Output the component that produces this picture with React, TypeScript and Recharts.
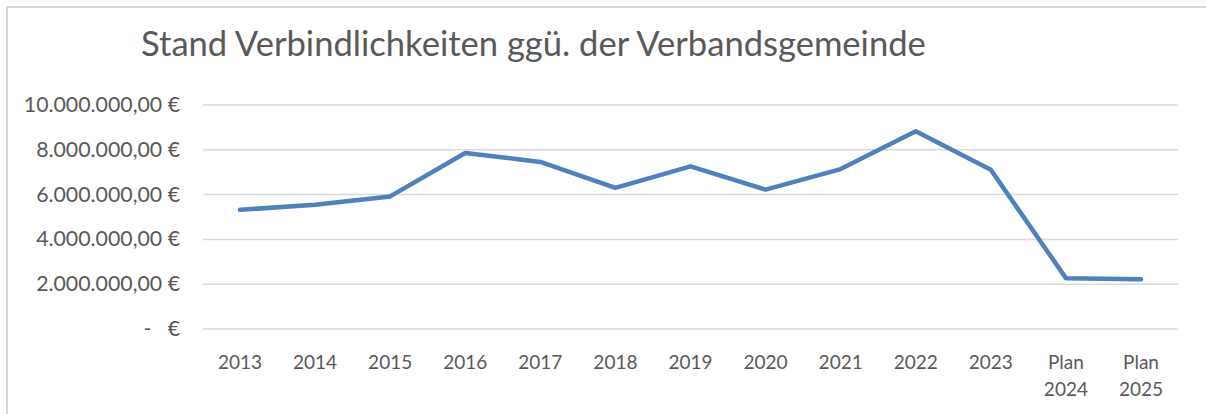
import { LineChart, Line, XAxis, YAxis, CartesianGrid } from 'recharts';

const years = ['2013', '2014', '2015', '2016', '2017', '2018', '2019', '2020', '2021', '2022', '2023', 'Plan 2024', 'Plan 2025'];
const debts = [5320000, 5550000, 5920000, 7860000, 7460000, 6300000, 7260000, 6220000, 7140000, 8830000, 7110000, 2270000, 2220000];
const yTicks = [0, 2000000, 4000000, 6000000, 8000000, 10000000];

const data = years.map((year, i) => ({ year, value: debts[i] }));

const TEXT = '#595959';
const FONT = 'Lato, "Open Sans", sans-serif';

function euro(v: number) {
  if (v === 0) return '-   €';
  const whole = Math.round(v).toString().replace(/\B(?=(\d{3})+(?!\d))/g, '.');
  return `${whole},00 €`;
}

const YTick = (props: any) => {
  const { x, y, payload } = props;
  return (
    <text x={x} y={y} dy={7} textAnchor="end" fill={TEXT} fontSize={21.3} fontFamily={FONT} style={{ whiteSpace: 'pre' }}>
      {euro(payload.value)}
    </text>
  );
};

const XTick = (props: any) => {
  const { x, y, payload } = props;
  const lines = String(payload.value).split(' ');
  return (
    <text x={x} y={y} textAnchor="middle" fill={TEXT} fontSize={19} fontFamily={FONT}>
      {lines.map((l, i) => (
        <tspan key={i} x={x} dy={i === 0 ? 38 : 27}>{l}</tspan>
      ))}
    </text>
  );
};

export default function App() {
  return (
    <div style={{ position: 'absolute', left: 0, top: 0, width: 1206, height: 414, background: '#fff', overflow: 'hidden' }}>
      <div style={{ position: 'absolute', left: 141, top: 22, fontFamily: FONT, fontSize: 34.6, lineHeight: 1.2, color: TEXT, whiteSpace: 'nowrap' }}>
        Stand Verbindlichkeiten ggü. der Verbandsgemeinde
      </div>
      <div style={{ position: 'absolute', left: 0, top: 0 }}>
        <LineChart width={1206} height={414} data={data} margin={{ top: 105, right: 28, left: 0, bottom: 0 }}>
          <CartesianGrid vertical={false} stroke="#D9D9D9" strokeWidth={1.5} />
          <XAxis dataKey="year" height={85} axisLine={false} tickLine={false} tickSize={0} tick={<XTick />} interval={0} padding={{ left: 37, right: 37 }} />
          <YAxis width={203} domain={[0, 10000000]} ticks={yTicks} axisLine={false} tickLine={false} tickSize={0} tickMargin={23} tick={<YTick />} interval={0} />
          <Line type="linear" dataKey="value" stroke="#4F81BD" strokeWidth={4.5} strokeLinecap="round" strokeLinejoin="round" dot={false} isAnimationActive={false} />
        </LineChart>
      </div>
      <div style={{ position: 'absolute', left: 6, top: 6, width: 2, height: 408, background: '#D9D9D9' }} />
      <div style={{ position: 'absolute', left: 6, top: 6, width: 1200, height: 2, background: '#D9D9D9' }} />
    </div>
  );
}
